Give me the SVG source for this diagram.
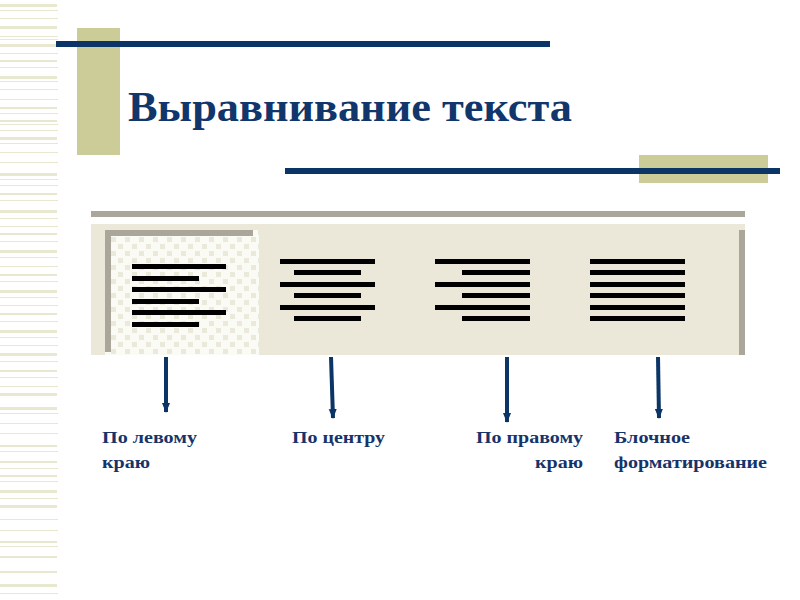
<svg xmlns="http://www.w3.org/2000/svg" width="800" height="600" viewBox="0 0 800 600">
<defs>
<style>
.stripe{fill:#e8e8d0}
.olive{fill:#cccc99}
.navy{fill:#0b3566}
.bar{fill:#000}
.lbl{font-family:"Liberation Serif","Times New Roman",serif;font-weight:bold;font-size:17px;fill:#16336a}
.conn{stroke:#0b3566;stroke-width:4;fill:none}
</style>
<pattern id="chk" x="110" y="236" width="14" height="14" patternUnits="userSpaceOnUse">
<rect width="14" height="14" fill="#fbfbf5"/>
<rect x="1" y="1" width="5" height="5" fill="#ebe9da"/>
<rect x="8" y="8" width="5" height="5" fill="#ebe9da"/>
</pattern>
<marker id="ah" viewBox="0 0 10 10" refX="9" refY="5" markerWidth="2.5" markerHeight="2.5" orient="auto" markerUnits="strokeWidth">
<path d="M0,1 L10,5 L0,9 Z" fill="#0b3566"/>
</marker>
</defs>
<rect width="800" height="600" fill="#fff"/>
<g id="stripes">
<rect class="stripe" x="0" y="4" width="57" height="3"/>
<rect class="stripe" x="0" y="10" width="58" height="1"/>
<rect class="stripe" x="0" y="18" width="58" height="1"/>
<rect class="stripe" x="0" y="26" width="57" height="3"/>
<rect class="stripe" x="0" y="36" width="58" height="1"/>
<rect class="stripe" x="0" y="39" width="58" height="1"/>
<rect class="stripe" x="0" y="44" width="57" height="3"/>
<rect class="stripe" x="0" y="53" width="58" height="1"/>
<rect class="stripe" x="0" y="60" width="57" height="2"/>
<rect class="stripe" x="0" y="67" width="58" height="1"/>
<rect class="stripe" x="0" y="76" width="57" height="3"/>
<rect class="stripe" x="0" y="81" width="58" height="1"/>
<rect class="stripe" x="0" y="89" width="58" height="1"/>
<rect class="stripe" x="0" y="99" width="58" height="1"/>
<rect class="stripe" x="0" y="107" width="57" height="2"/>
<rect class="stripe" x="0" y="113" width="58" height="1"/>
<rect class="stripe" x="0" y="120" width="57" height="2"/>
<rect class="stripe" x="0" y="124" width="58" height="1"/>
<rect class="stripe" x="0" y="130" width="58" height="1"/>
<rect class="stripe" x="0" y="137" width="57" height="3"/>
<rect class="stripe" x="0" y="143" width="58" height="1"/>
<rect class="stripe" x="0" y="152" width="58" height="1"/>
<rect class="stripe" x="0" y="162" width="58" height="1"/>
<rect class="stripe" x="0" y="173" width="57" height="3"/>
<rect class="stripe" x="0" y="179" width="58" height="1"/>
<rect class="stripe" x="0" y="185" width="58" height="1"/>
<rect class="stripe" x="0" y="193" width="57" height="2"/>
<rect class="stripe" x="0" y="200" width="58" height="1"/>
<rect class="stripe" x="0" y="210" width="57" height="3"/>
<rect class="stripe" x="0" y="218" width="58" height="1"/>
<rect class="stripe" x="0" y="226" width="58" height="1"/>
<rect class="stripe" x="0" y="233" width="57" height="2"/>
<rect class="stripe" x="0" y="241" width="58" height="1"/>
<rect class="stripe" x="0" y="250" width="57" height="3"/>
<rect class="stripe" x="0" y="257" width="58" height="1"/>
<rect class="stripe" x="0" y="266" width="58" height="1"/>
<rect class="stripe" x="0" y="274" width="57" height="2"/>
<rect class="stripe" x="0" y="281" width="58" height="1"/>
<rect class="stripe" x="0" y="290" width="57" height="3"/>
<rect class="stripe" x="0" y="297" width="58" height="1"/>
<rect class="stripe" x="0" y="305" width="58" height="1"/>
<rect class="stripe" x="0" y="313" width="57" height="2"/>
<rect class="stripe" x="0" y="321" width="58" height="1"/>
<rect class="stripe" x="0" y="330" width="57" height="3"/>
<rect class="stripe" x="0" y="337" width="58" height="1"/>
<rect class="stripe" x="0" y="345" width="58" height="1"/>
<rect class="stripe" x="0" y="353" width="57" height="3"/>
<rect class="stripe" x="0" y="361" width="58" height="1"/>
<rect class="stripe" x="0" y="370" width="57" height="2"/>
<rect class="stripe" x="0" y="377" width="58" height="1"/>
<rect class="stripe" x="0" y="386" width="58" height="1"/>
<rect class="stripe" x="0" y="393" width="57" height="3"/>
<rect class="stripe" x="0" y="407" width="57" height="3"/>
<rect class="stripe" x="0" y="413" width="58" height="1"/>
<rect class="stripe" x="0" y="423" width="58" height="1"/>
<rect class="stripe" x="0" y="433" width="58" height="1"/>
<rect class="stripe" x="0" y="445" width="57" height="2"/>
<rect class="stripe" x="0" y="451" width="58" height="1"/>
<rect class="stripe" x="0" y="461" width="57" height="2"/>
<rect class="stripe" x="0" y="468" width="58" height="1"/>
<rect class="stripe" x="0" y="475" width="57" height="2"/>
<rect class="stripe" x="0" y="481" width="58" height="1"/>
<rect class="stripe" x="0" y="490" width="57" height="3"/>
<rect class="stripe" x="0" y="498" width="58" height="1"/>
<rect class="stripe" x="0" y="505" width="57" height="3"/>
<rect class="stripe" x="0" y="519" width="58" height="1"/>
<rect class="stripe" x="0" y="530" width="58" height="1"/>
<rect class="stripe" x="0" y="541" width="57" height="2"/>
<rect class="stripe" x="0" y="546" width="58" height="1"/>
<rect class="stripe" x="0" y="556" width="57" height="2"/>
<rect class="stripe" x="0" y="571" width="57" height="2"/>
<rect class="stripe" x="0" y="584" width="57" height="3"/>
<rect class="stripe" x="0" y="593" width="58" height="1"/>
</g>
<g id="title-decor">
<rect class="olive" x="77" y="28" width="43" height="127"/>
<rect class="navy" x="56" y="41" width="494" height="6"/>
<rect class="olive" x="639" y="155" width="129" height="28"/>
<rect class="navy" x="285" y="168" width="495" height="6"/>
</g>
<g id="title">
<text x="128" y="121" font-family="'Liberation Serif','Times New Roman',serif" font-weight="bold" font-size="43" fill="#10366c" textLength="444" lengthAdjust="spacingAndGlyphs">Выравнивание текста</text>
</g>
<g id="toolbar">
<rect x="91" y="211" width="654" height="6" fill="#aaa69a"/>
<rect x="91" y="224" width="654" height="131" fill="#ebe8da"/>
<rect x="739" y="230" width="6" height="125" fill="#aaa69a"/>
</g>
<g id="btn-left">
<rect x="105" y="230" width="154" height="125" fill="url(#chk)"/>
<rect x="105" y="230" width="148" height="6" fill="#aaa69a"/>
<rect x="105" y="230" width="6" height="122" fill="#aaa69a"/>
<rect class="bar" x="132" y="264" width="94" height="5"/>
<rect class="bar" x="132" y="276" width="67" height="5"/>
<rect class="bar" x="132" y="287" width="94" height="5"/>
<rect class="bar" x="132" y="299" width="67" height="5"/>
<rect class="bar" x="132" y="310" width="94" height="5"/>
<rect class="bar" x="132" y="322" width="67" height="5"/>
</g>
<g id="btn-center">
<rect class="bar" x="280" y="259" width="95" height="5"/>
<rect class="bar" x="294" y="270" width="67" height="5"/>
<rect class="bar" x="280" y="282" width="95" height="5"/>
<rect class="bar" x="294" y="293" width="67" height="5"/>
<rect class="bar" x="280" y="305" width="95" height="5"/>
<rect class="bar" x="294" y="316" width="67" height="5"/>
</g>
<g id="btn-right">
<rect class="bar" x="435" y="259" width="95" height="5"/>
<rect class="bar" x="462" y="270" width="68" height="5"/>
<rect class="bar" x="435" y="282" width="95" height="5"/>
<rect class="bar" x="462" y="293" width="68" height="5"/>
<rect class="bar" x="435" y="305" width="95" height="5"/>
<rect class="bar" x="462" y="316" width="68" height="5"/>
</g>
<g id="btn-justify">
<rect class="bar" x="590" y="259" width="95" height="5"/>
<rect class="bar" x="590" y="270" width="95" height="5"/>
<rect class="bar" x="590" y="282" width="95" height="5"/>
<rect class="bar" x="590" y="293" width="95" height="5"/>
<rect class="bar" x="590" y="305" width="95" height="5"/>
<rect class="bar" x="590" y="316" width="95" height="5"/>
</g>
<g id="connectors">
<line class="conn" x1="166" y1="357" x2="166" y2="412" marker-end="url(#ah)"/>
<line class="conn" x1="331" y1="357" x2="333" y2="418" marker-end="url(#ah)"/>
<line class="conn" x1="507" y1="357" x2="507" y2="422" marker-end="url(#ah)"/>
<line class="conn" x1="658" y1="357" x2="659" y2="418" marker-end="url(#ah)"/>
</g>
<g id="label-left">
<text class="lbl" x="102" y="443" textLength="95" lengthAdjust="spacingAndGlyphs">По левому</text>
<text class="lbl" x="102" y="468" textLength="48" lengthAdjust="spacingAndGlyphs">краю</text>
</g>
<g id="label-center">
<text class="lbl" x="292" y="443" textLength="93" lengthAdjust="spacingAndGlyphs">По центру</text>
</g>
<g id="label-right">
<text class="lbl" x="476" y="443" textLength="107" lengthAdjust="spacingAndGlyphs">По правому</text>
<text class="lbl" x="535" y="468" textLength="48" lengthAdjust="spacingAndGlyphs">краю</text>
</g>
<g id="label-justify">
<text class="lbl" x="614" y="443" textLength="76" lengthAdjust="spacingAndGlyphs">Блочное</text>
<text class="lbl" x="614" y="468" textLength="153" lengthAdjust="spacingAndGlyphs">форматирование</text>
</g>
</svg>
